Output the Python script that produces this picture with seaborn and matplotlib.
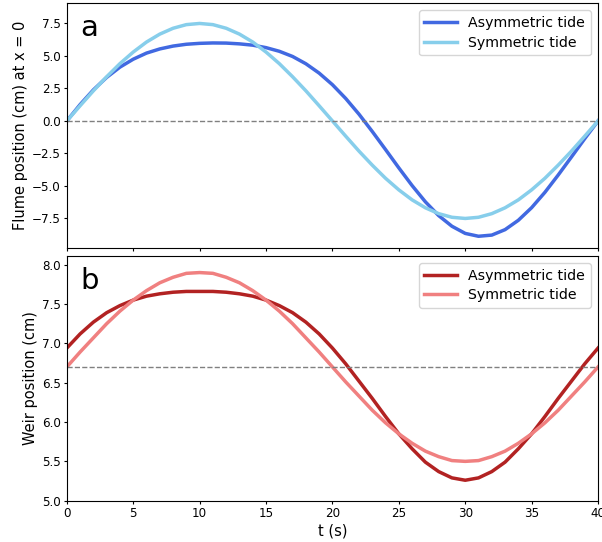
import numpy as np
import matplotlib
matplotlib.use("Agg")
import matplotlib.pyplot as plt
import seaborn as sns

# time axis (s)
t = list(range(0, 41))

# flume position at x = 0 (cm)
flume_asym = [0.00, 1.26, 2.39, 3.35, 4.14, 4.75, 5.22, 5.54, 5.76, 5.90,
              5.97, 6.00, 5.99, 5.93, 5.83, 5.64, 5.36, 4.96, 4.40, 3.68,
              2.79, 1.73, 0.52, -0.81, -2.20, -3.61, -4.97, -6.22, -7.28, -8.10,
              -8.65, -8.87, -8.78, -8.36, -7.64, -6.67, -5.49, -4.16, -2.77, -1.36,
              0.00]
flume_sym = [0.00, 1.17, 2.32, 3.40, 4.41, 5.30, 6.07, 6.68, 7.13, 7.41,
             7.50, 7.41, 7.13, 6.68, 6.07, 5.30, 4.41, 3.40, 2.32, 1.17,
             0.00, -1.17, -2.32, -3.40, -4.41, -5.30, -6.07, -6.68, -7.13, -7.41,
             -7.50, -7.41, -7.13, -6.68, -6.07, -5.30, -4.41, -3.40, -2.32, -1.17,
             0.00]

# weir position (cm)
weir_asym = [6.94, 7.12, 7.27, 7.39, 7.48, 7.55, 7.60, 7.63, 7.65, 7.66,
             7.66, 7.66, 7.65, 7.63, 7.60, 7.55, 7.48, 7.39, 7.27, 7.12,
             6.94, 6.74, 6.52, 6.30, 6.07, 5.85, 5.66, 5.49, 5.37, 5.29,
             5.26, 5.29, 5.37, 5.49, 5.66, 5.85, 6.07, 6.30, 6.52, 6.74,
             6.94]
weir_sym = [6.70, 6.89, 7.07, 7.25, 7.41, 7.55, 7.67, 7.77, 7.84, 7.89,
            7.90, 7.89, 7.84, 7.77, 7.67, 7.55, 7.41, 7.25, 7.07, 6.89,
            6.70, 6.51, 6.33, 6.15, 5.99, 5.85, 5.73, 5.63, 5.56, 5.51,
            5.50, 5.51, 5.56, 5.63, 5.73, 5.85, 5.99, 6.15, 6.33, 6.51,
            6.70]

flume_mean = 0.0
weir_mean = 6.7

plt.rcParams.update({
    "xtick.labelsize": 8.6,
    "ytick.labelsize": 8.6,
    "xtick.major.size": 2.2,
    "ytick.major.size": 2.2,
    "xtick.major.pad": 2.2,
    "ytick.major.pad": 2.2,
    "axes.labelsize": 10.5,
    "legend.fontsize": 10.2,
    "lines.solid_joinstyle": "round",
})

fig, (ax1, ax2) = plt.subplots(2, 1, figsize=(6.02, 5.42), dpi=100, sharex=True)
fig.subplots_adjust(left=0.111, right=0.9934, top=0.9939, bottom=0.0762, hspace=0.033)

# panel a
sns.lineplot(x=t, y=flume_asym, ax=ax1, color="royalblue", lw=2.5, label="Asymmetric tide")
sns.lineplot(x=t, y=flume_sym, ax=ax1, color="skyblue", lw=2.5, label="Symmetric tide")
ax1.axhline(flume_mean, color="gray", ls="--", lw=1)
ax1.set_ylim(-9.77, 9.05)
ax1.set_yticks([-7.5, -5.0, -2.5, 0.0, 2.5, 5.0, 7.5])
ax1.set_ylabel("Flume position (cm) at x = 0", labelpad=3)
ax1.legend(loc="upper right", handlelength=2.3, labelspacing=0.4)
ax1.text(0.025, 0.865, "a", transform=ax1.transAxes, fontsize=21, va="baseline")

# panel b
sns.lineplot(x=t, y=weir_asym, ax=ax2, color="firebrick", lw=2.5, label="Asymmetric tide")
sns.lineplot(x=t, y=weir_sym, ax=ax2, color="lightcoral", lw=2.5, label="Symmetric tide")
ax2.axhline(weir_mean, color="gray", ls="--", lw=1)
ax2.set_ylim(5.0, 8.11)
ax2.set_ylabel("Weir position (cm)", labelpad=3)
ax2.set_xlabel("t (s)", labelpad=3)
ax2.set_xlim(0, 40)
ax2.set_xticks(range(0, 41, 5))
ax2.legend(loc="upper right", handlelength=2.3, labelspacing=0.4)
ax2.text(0.025, 0.865, "b", transform=ax2.transAxes, fontsize=21, va="baseline")

fig.savefig("out.png", dpi=100)
